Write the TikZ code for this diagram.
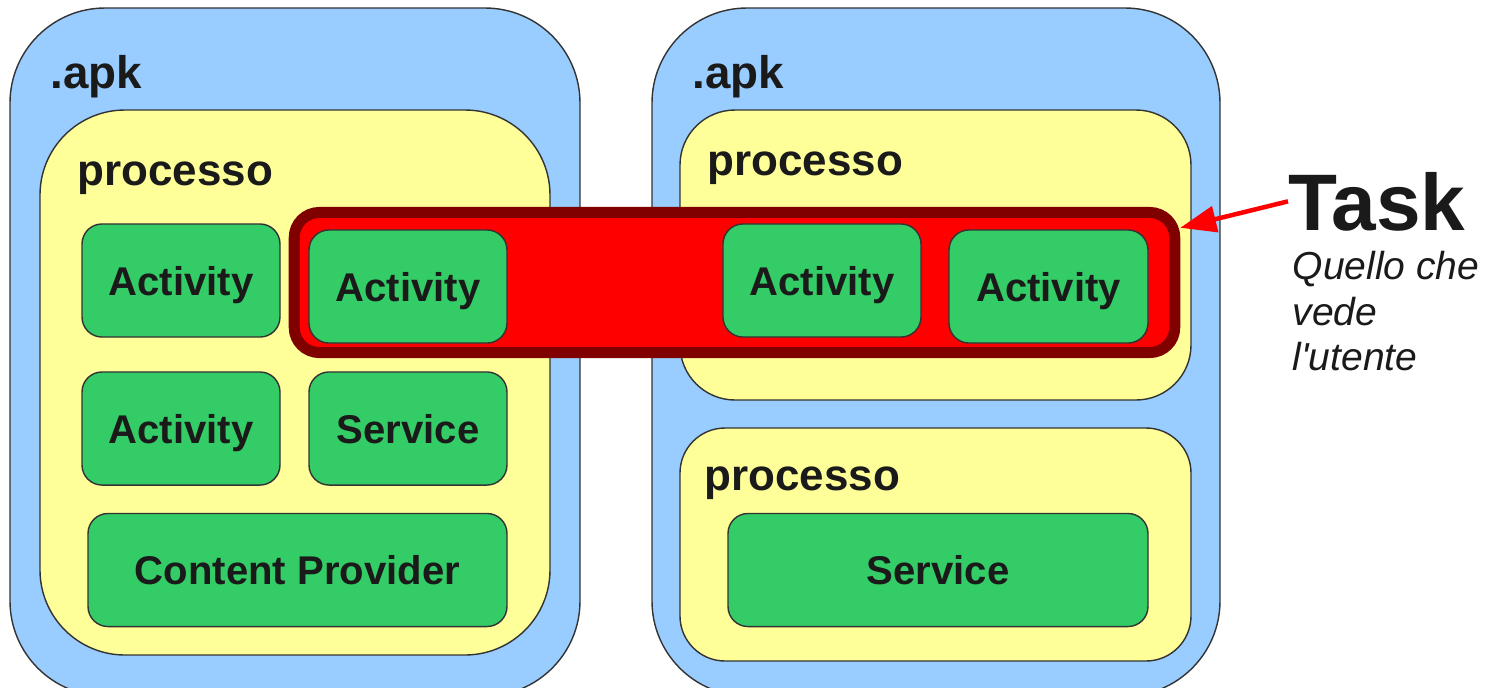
\documentclass[tikz,border=0pt]{standalone}
\usepackage{fontspec}
\setmainfont{Liberation Sans}
\usetikzlibrary{arrows.meta}
\definecolor{apkblue}{HTML}{99CCFF}
\definecolor{procyellow}{HTML}{FFFF99}
\definecolor{compgreen}{HTML}{33CC66}
\definecolor{taskred}{HTML}{FF0000}
\definecolor{taskdark}{HTML}{800000}
\definecolor{ink}{HTML}{1A1A1A}
\tikzstyle{apkbox} = [draw=black!80, fill=apkblue, rounded corners=0.95cm]
\tikzstyle{procbox} = [draw=black!80, fill=procyellow]
\tikzstyle{compbox} = [draw=black!80, fill=compgreen, rounded corners=0.2cm, text=ink, text depth=0pt, font=\fontsize{11.4}{14}\selectfont\bfseries]
\tikzstyle{taskband} = [draw=taskdark, fill=taskred, line width=0.11cm, rounded corners=0.25cm]
\tikzstyle{heading} = [text=ink, inner sep=0pt, anchor=base west]
\tikzstyle{arrowdecorate} = [-{Triangle[length=0.36cm,width=0.26cm]}, taskred, line width=0.045cm]

\begin{document}
\begin{tikzpicture}[x=0.01cm, y=-0.01cm]
      \useasboundingbox (0,0) rectangle (1493,687);
      \clip (0,0) rectangle (1493,687);
      %containers
      \foreach \nodename/\x/\y/\w/\h in {
        apkL/295/352/570/688,
        apkR/936/352/568/688}
      {
        \node[apkbox, minimum width=\w*0.01cm, minimum height=\h*0.01cm] (\nodename) at (\x,\y) {};
      };
      \foreach \nodename/\x/\y/\w/\h/\r in {
        procL/295/382.5/510/545/0.85,
        procT/935.5/255/511/290/0.55,
        procB/935.5/544.5/511/233/0.45}
      {
        \node[procbox, rounded corners=\r cm, minimum width=\w*0.01cm, minimum height=\h*0.01cm] (\nodename) at (\x,\y) {};
      };
      %task
      \node[taskband, minimum width=8.8cm, minimum height=1.4cm] (band) at (734.5,282.5) {};
      %components
      \foreach \nodename/\x/\y/\w/\txt in {
        actA/181/280.5/198/Activity,
        actB/181/428.5/198/Activity,
        servA/408/428.5/198/Service,
        provA/297.5/570/419/Content Provider,
        actC/408/286.5/198/Activity,
        actD/822/280.5/198/Activity,
        actE/1048.5/286.5/199/Activity,
        servB/938/570/420/Service}
      {
        \node[compbox, minimum width=\w*0.01cm, minimum height=1.13cm] (\nodename) at (\x,\y) {\txt};
      };
      %labels
      \foreach \nodename/\x/\y/\size/\txt in {
        apkLlabel/50/88/13/.apk,
        apkRlabel/692/88/13/.apk,
        procLlabel/77/185/12.5/processo,
        procTlabel/707/175/12.5/processo,
        procBlabel/704/490/12.5/processo}
      {
        \node[heading, font=\fontsize{\size}{\size}\selectfont\bfseries] (\nodename) at (\x,\y) {\txt};
      };
      \node[heading, font=\fontsize{22.8}{27}\selectfont\bfseries] (task) at (1288,230) {Task};
      \node[heading, align=left, font=\fontsize{11.1}{12.8}\selectfont\itshape] (seen) at (1292,370) {Quello che\\vede\\l\textquotesingle utente};
      %edges
      \draw[arrowdecorate] (task.west) -- (band.7);
    \end{tikzpicture}
\end{document}
